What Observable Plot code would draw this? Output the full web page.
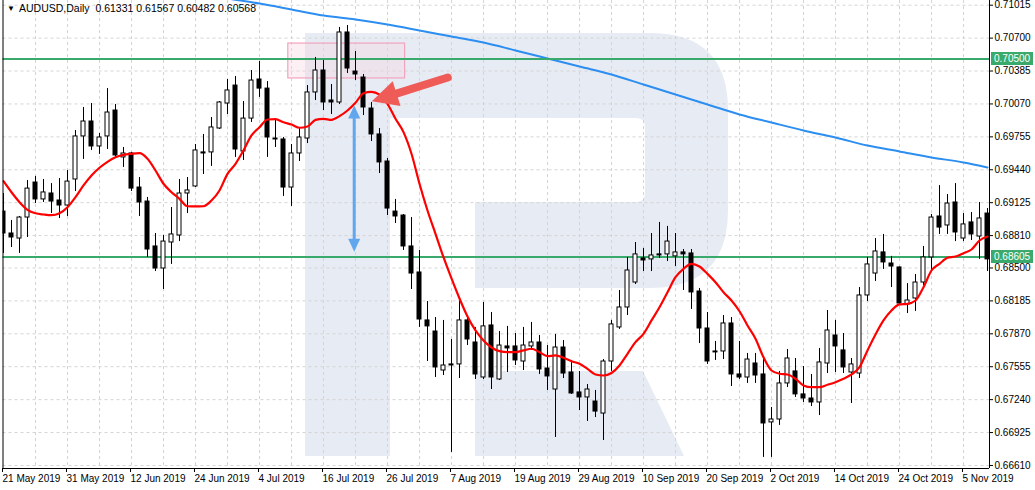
<!DOCTYPE html>
<html><head><meta charset="utf-8">
<script src="https://cdn.jsdelivr.net/npm/d3@7"></script>
<script src="https://cdn.jsdelivr.net/npm/@observablehq/plot@0.6"></script>
<style>
body{margin:0;background:#fff;}
#chart{position:relative;width:1035px;height:490px;overflow:hidden;}
</style>
</head><body><div id="chart"></div>
<script>
// ---- data (AUDUSD daily, 21 May 2019 .. 8 Nov 2019), index = trading day ----
const openP = [0.69040,0.68830,0.68782,0.68983,0.69318,0.69156,0.69213,0.69146,0.69098,0.69347,
0.69759,0.69902,0.69663,0.69759,0.70007,0.69558,0.69596,0.69270,0.69136,0.68706,
0.68495,0.68744,0.68811,0.69213,0.69280,0.69606,0.69606,0.69835,0.70074,0.70246,
0.69615,0.69930,0.70304,0.70217,0.69739,0.69730,0.69270,0.69596,0.69739,0.70180,
0.70390,0.70103,0.70084,0.70754,0.70380,0.70323,0.70026,0.69778,0.69519,0.69040,
0.69002,0.68706,0.68457,0.67998,0.67892,0.67519,0.67577,0.67577,0.67998,0.67787,
0.67452,0.67950,0.67433,0.67749,0.67749,0.67605,0.67749,0.67787,0.67538,0.67337,
0.67739,0.67500,0.67309,0.67261,0.67222,0.67107,0.67605,0.67931,0.68122,0.68361,
0.68591,0.68582,0.68630,0.68630,0.68611,0.68649,0.68639,0.68275,0.67921,0.67701,
0.67701,0.67969,0.67481,0.67452,0.67586,0.67481,0.67022,0.67050,0.67395,0.67510,
0.67290,0.67251,0.67213,0.67586,0.67854,0.67711,0.67500,0.67490,0.68237,0.68447,
0.68649,0.68543,0.68505,0.68150,0.68208,0.68361,0.68601,0.68993,0.68907,0.69127,
0.68782,0.68936,0.68801,0.69021];
const highP = [0.69213,0.68955,0.68993,0.69337,0.69376,0.69347,0.69308,0.69356,0.69433,0.69816,
0.70036,0.70074,0.69787,0.70217,0.70065,0.69653,0.69606,0.69366,0.69175,0.68830,
0.68811,0.69079,0.69347,0.69366,0.69682,0.69778,0.69940,0.70093,0.70304,0.70333,
0.70093,0.70390,0.70476,0.70284,0.69921,0.69749,0.69682,0.69835,0.70246,0.70515,
0.70486,0.70256,0.70802,0.70821,0.70572,0.70352,0.70084,0.69835,0.69548,0.69156,
0.69012,0.68983,0.68668,0.68179,0.68026,0.67998,0.67816,0.68189,0.68026,0.67931,
0.68170,0.68074,0.67892,0.67941,0.67873,0.67931,0.67979,0.67854,0.67758,0.67864,
0.67806,0.67615,0.67509,0.67385,0.67328,0.67624,0.67998,0.68285,0.68601,0.68744,
0.68687,0.68830,0.68936,0.68898,0.68830,0.68677,0.68677,0.68304,0.68074,0.67797,
0.68045,0.68026,0.67797,0.67682,0.67682,0.67644,0.67165,0.67510,0.67720,0.67634,
0.67557,0.67481,0.67730,0.68093,0.67998,0.67873,0.67634,0.68313,0.68601,0.68782,
0.68821,0.68611,0.68510,0.68351,0.68438,0.68706,0.69012,0.69289,0.69203,0.69308,
0.69021,0.69031,0.69127,0.69069];
const lowP = [0.68639,0.68696,0.68639,0.68792,0.69117,0.69127,0.69021,0.68973,0.68993,0.69232,
0.69539,0.69625,0.69587,0.69634,0.69558,0.69462,0.69232,0.68993,0.68601,0.68466,
0.68294,0.68534,0.68753,0.69021,0.69270,0.69395,0.69472,0.69826,0.69969,0.69558,
0.69529,0.69893,0.70132,0.69558,0.69653,0.69185,0.69089,0.69519,0.69691,0.70103,
0.70007,0.69969,0.70065,0.70361,0.70294,0.69959,0.69710,0.69404,0.69002,0.68926,
0.68668,0.68294,0.67931,0.67605,0.67452,0.67471,0.66735,0.67442,0.67758,0.67433,
0.67433,0.67337,0.67423,0.67500,0.67567,0.67519,0.67711,0.67481,0.67328,0.66878,
0.67442,0.67290,0.67136,0.67031,0.67069,0.66849,0.67510,0.67912,0.68045,0.68342,
0.68466,0.68466,0.68591,0.68562,0.68514,0.68285,0.68103,0.67777,0.67577,0.67615,
0.67624,0.67366,0.67433,0.67395,0.67395,0.66687,0.66687,0.66993,0.67356,0.67261,
0.67213,0.67174,0.67088,0.67490,0.67500,0.67490,0.67203,0.67442,0.68179,0.68371,
0.68486,0.68313,0.68141,0.68064,0.68084,0.68332,0.68476,0.68821,0.68821,0.68753,
0.68753,0.68763,0.68582,0.68466];
const closeP = [0.68830,0.68792,0.68983,0.69260,0.69156,0.69223,0.69136,0.69098,0.69327,0.69759,
0.69902,0.69663,0.69749,0.69988,0.69577,0.69596,0.69260,0.69127,0.68677,0.68495,
0.68753,0.68821,0.69213,0.69242,0.69625,0.69596,0.69845,0.70084,0.70199,0.69634,
0.69930,0.70294,0.70217,0.69749,0.69730,0.69270,0.69596,0.69749,0.70180,0.70390,
0.70084,0.70084,0.70754,0.70409,0.70352,0.70036,0.69778,0.69510,0.69069,0.68993,
0.68706,0.68447,0.68007,0.67941,0.67548,0.67567,0.67567,0.67998,0.67816,0.67481,
0.67941,0.67452,0.67758,0.67730,0.67615,0.67758,0.67787,0.67529,0.67462,0.67739,
0.67490,0.67299,0.67261,0.67337,0.67126,0.67605,0.67960,0.68122,0.68476,0.68630,
0.68572,0.68620,0.68620,0.68753,0.68649,0.68630,0.68266,0.67921,0.67605,0.67692,
0.67969,0.67481,0.67452,0.67624,0.67471,0.67012,0.67050,0.67395,0.67634,0.67290,
0.67251,0.67213,0.67596,0.67902,0.67749,0.67548,0.67577,0.68237,0.68534,0.68658,
0.68553,0.68514,0.68160,0.68189,0.68361,0.68601,0.68983,0.68887,0.69117,0.68840,
0.68917,0.68821,0.68974,0.68582];
// red moving average, one value per candle
const maRed = [0.69331,0.69225,0.69130,0.69057,0.69024,0.69012,0.69005,0.69024,0.69082,0.69178,
0.69290,0.69385,0.69459,0.69516,0.69560,0.69583,0.69593,0.69599,0.69545,0.69433,
0.69306,0.69225,0.69162,0.69091,0.69089,0.69091,0.69146,0.69242,0.69401,0.69497,
0.69625,0.69768,0.69847,0.69921,0.69924,0.69895,0.69873,0.69842,0.69854,0.69918,
0.69928,0.69918,0.69953,0.70007,0.70081,0.70173,0.70186,0.70160,0.70071,0.69928,
0.69800,0.69593,0.69306,0.69050,0.68827,0.68603,0.68400,0.68208,0.68036,0.67902,
0.67806,0.67739,0.67704,0.67694,0.67694,0.67711,0.67727,0.67694,0.67656,0.67663,
0.67641,0.67608,0.67583,0.67535,0.67481,0.67471,0.67495,0.67567,0.67679,0.67790,
0.67870,0.67998,0.68125,0.68268,0.68412,0.68492,0.68540,0.68514,0.68444,0.68364,
0.68268,0.68189,0.68086,0.67950,0.67823,0.67646,0.67519,0.67488,0.67481,0.67440,
0.67376,0.67359,0.67359,0.67382,0.67407,0.67440,0.67481,0.67551,0.67711,0.67864,
0.67998,0.68093,0.68151,0.68157,0.68189,0.68316,0.68476,0.68540,0.68598,0.68610,
0.68642,0.68677,0.68763,0.68801];
// blue long moving average, sampled every 4 candles
const maBlueIdx = [24,28,32,36,40,44,48,52,56,60,64,68,72,76,80,84,88,92,96,100,104,108,112,116,120,123];
const maBlue = [0.71130,0.71079,0.71031,0.70974,0.70916,0.70878,0.70830,0.70773,0.70715,0.70658,
0.70582,0.70505,0.70428,0.70352,0.70256,0.70160,0.70065,0.69969,0.69892,0.69816,
0.69749,0.69672,0.69615,0.69558,0.69510,0.69462];
const xTickIdx = [0,8,16,24,32,40,48,56,64,72,80,88,96,104,112,120];
const xTickLabels = ["21 May 2019","31 May 2019","12 Jun 2019","24 Jun 2019","4 Jul 2019","16 Jul 2019",
"26 Jul 2019","7 Aug 2019","19 Aug 2019","29 Aug 2019","10 Sep 2019","20 Sep 2019","2 Oct 2019",
"14 Oct 2019","24 Oct 2019","5 Nov 2019"];
const xGridIdx = [4,8,12,16,20,24,28,32,36,40,44,48,52,56,60,64,68,72,76,80,84,88,92,96,100,104,108,112,116,120];
const yTickValues = [0.71015,0.70700,0.70385,0.70070,0.69755,0.69440,0.69125,0.68810,0.68500,0.68185,0.67870,0.67555,0.67240,0.66925,0.66610];
const levels = [0.70500, 0.68605];
const levelLabels = ["0.70500", "0.68605"];
const headerSymbol = "AUDUSD,Daily";
const headerValues = "0.61331 0.61567 0.60482 0.60568";
// annotations (in data units: candle index, price)
const zoneIdx = [35.6, 50.2];
const zonePrice = [0.70648, 0.70314];
const redArrowIdx = [55.6, 46.1];
const redArrowPrice = [0.70318, 0.70090];
const blueArrowIdx = [43.9];
const blueArrowPrice = [0.70050, 0.68650];

// ---- build ----
const candles = openP.map((o, i) => ({i, open: o, high: highP[i], low: lowP[i], close: closeP[i]}));
const redLine = maRed.map((v, i) => ({i, v}));
const blueLine = maBlue.map((v, k) => ({i: maBlueIdx[k], v}));
const xDomain = [-0.0625, 123.25];
const yDomain = [0.66581, 0.71060];
const font = "'Liberation Sans', Arial, sans-serif";

const plot = Plot.plot({
  width: 1035, height: 490,
  marginLeft: 2.5, marginRight: 46, marginTop: 0, marginBottom: 22,
  style: {fontFamily: font, fontSize: "10px", background: "#fff", color: "#000"},
  x: {domain: xDomain, axis: null},
  y: {domain: yDomain, axis: null},
  marks: [
    Plot.ruleX(xGridIdx, {stroke: "#d4d4d4", strokeDasharray: "3,3"}),
    Plot.ruleY(yTickValues, {stroke: "#d4d4d4", strokeDasharray: "3,3"}),
    Plot.rect([0], {x1: () => zoneIdx[0], x2: () => zoneIdx[1], y1: () => zonePrice[0], y2: () => zonePrice[1],
      fill: "#f8d3df", fillOpacity: 0.35, stroke: "#f2a4bd", strokeWidth: 1.2}),
    Plot.line(blueLine, {x: "i", y: "v", stroke: "#2c8ef0", strokeWidth: 2, curve: "monotone-x", clip: true}),
    Plot.ruleY(levels, {stroke: "#3aaa6c", strokeWidth: 2}),
    Plot.ruleX(candles, {x: "i", y1: "low", y2: "high", stroke: "#000", strokeWidth: 1, clip: true}),
    Plot.rect(candles, {x1: d => d.i - 0.25, x2: d => d.i + 0.25, y1: "open", y2: "close",
      fill: d => d.close >= d.open ? "#fff" : "#000", stroke: "#000", strokeWidth: 1, clip: true}),
    Plot.line(redLine, {x: "i", y: "v", stroke: "#ff0000", strokeWidth: 2.2, curve: "monotone-x", clip: true}),
    Plot.ruleX([xDomain[0], xDomain[1]], {stroke: "#000"}),
    Plot.ruleY([yDomain[0]], {stroke: "#000"}),
    Plot.axisY(yTickValues, {anchor: "right", tickFormat: d => d.toFixed(5), tickSize: 3, tickPadding: 2,
      fontSize: 10, textAnchor: "start", label: null}),
    Plot.axisX(xTickIdx, {anchor: "bottom", tickFormat: i => xTickLabels[xTickIdx.indexOf(i)], tickSize: 4,
      tickPadding: 2, textAnchor: "start", dx: -1, fontSize: 10, label: null}),
    Plot.text([headerSymbol + "  " + headerValues], {frameAnchor: "top-left", dx: 16, dy: 4,
      textAnchor: "start", lineAnchor: "top", fontSize: 10.5, fill: "#000"}),
    Plot.text(["\u25BC"], {frameAnchor: "top-left", dx: 4, dy: 5, textAnchor: "start", lineAnchor: "top", fontSize: 8, fill: "#000"})
  ]
});

const svg = d3.select(plot);
const sx = plot.scale("x"), sy = plot.scale("y");
const X = v => sx.apply(v), Y = v => sy.apply(v);

// watermark logo behind everything
const wm = svg.insert("g", "g").attr("fill", "#e7ebf4");
wm.append("path").attr("d", "M305,33L650,33Q728,33 728,110L728,210Q728,288 650,288L475,288L475,202L636,202Q645,202 645,193L645,127Q645,118 636,118L390,118L390,456L305,456Z");
wm.append("path").attr("d", "M475,371L643,371L684,456L475,456Z");

// annotations overlay
const ov = svg.append("g").attr("text-anchor", "start");
function arrowHead(tx, ty, dx, dy, len, half, color) {
  const bx = tx - dx * len, by = ty - dy * len, px = -dy, py = dx;
  ov.append("path").attr("d", `M${tx},${ty}L${bx + px * half},${by + py * half}L${bx - px * half},${by - py * half}Z`).attr("fill", color);
}
// red arrow
{
  const x1 = X(redArrowIdx[0]), y1 = Y(redArrowPrice[0]), x2 = X(redArrowIdx[1]), y2 = Y(redArrowPrice[1]);
  const L = Math.hypot(x2 - x1, y2 - y1), dx = (x2 - x1) / L, dy = (y2 - y1) / L;
  const c = "#ef5b57";
  ov.append("line").attr("x1", x1).attr("y1", y1).attr("x2", x2 - dx * 20).attr("y2", y2 - dy * 20)
    .attr("stroke", c).attr("stroke-width", 8).attr("stroke-linecap", "round");
  arrowHead(x2, y2, dx, dy, 26, 13, c);
}
// blue double arrow
{
  const x = X(blueArrowIdx[0]), ya = Y(blueArrowPrice[0]), yb = Y(blueArrowPrice[1]);
  const c = "#62a6ee";
  ov.append("line").attr("x1", x).attr("x2", x).attr("y1", ya + 10).attr("y2", yb - 10).attr("stroke", c).attr("stroke-width", 3);
  arrowHead(x, ya, 0, -1, 13, 6, c);
  arrowHead(x, yb, 0, 1, 13, 6, c);
}
// level labels on the price axis
levels.forEach((v, k) => {
  const y = Y(v);
  ov.append("rect").attr("x", 991).attr("y", y - 6.5).attr("width", 42).attr("height", 13).attr("fill", "#3aaa6c");
  ov.append("text").attr("x", 994).attr("y", y + 3.5).attr("fill", "#fff").attr("font-size", 10)
    .attr("text-anchor", "start").attr("font-family", font).text(levelLabels[k]);
});

document.getElementById("chart").appendChild(plot);
</script>
</body></html>
